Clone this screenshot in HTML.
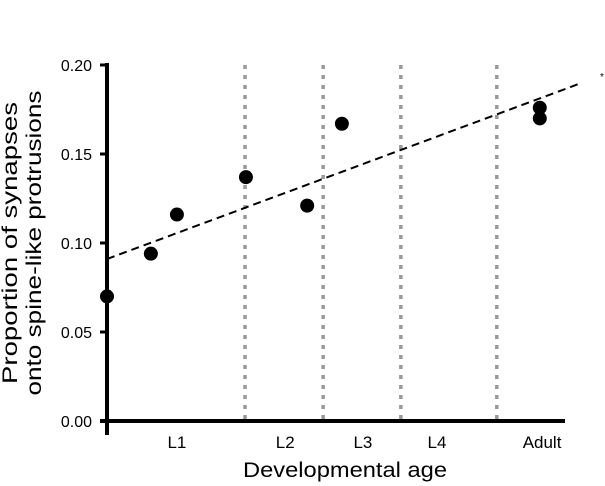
<!DOCTYPE html>
<html><head><meta charset="utf-8"><style>
body{margin:0;background:#fff;}
svg{display:block;font-family:"Liberation Sans",Arial,sans-serif;}
</style></head><body>
<svg id="chart" width="605" height="486"></svg>
<script>
const xs=[0,9.6,15.3,30.4,43.8,51.4,94.7,94.7];
const ys=[0.070,0.094,0.116,0.137,0.121,0.167,0.176,0.170];
const yTicks=[0,0.05,0.10,0.15,0.20];
const yTickLabels=["0.00","0.05","0.10","0.15","0.20"];
const stageNames=["L1","L2","L3","L4","Adult"];
const stagePos=[15.3,39,56,72.2,95.2];
const dividers=[30.2,47.3,64.3,85.3];
const fitLine=[[0,0.091],[103.9,0.190]];

const svg=document.getElementById('chart');
const NS="http://www.w3.org/2000/svg";
const X=v=>107+v*4.57;
const Y=v=>421-v*1780;
function mk(t,a,p){const e=document.createElementNS(NS,t);for(const k in a)e.setAttribute(k,a[k]);(p||svg).appendChild(e);return e;}

dividers.forEach(d=>{
 const l=mk('line',{x1:X(d),x2:X(d),y1:65,y2:421,stroke:'#999','stroke-width':3.5,'stroke-dasharray':'4,6'});
 
 
});
const ax=mk('line',{x1:107,x2:107,y1:63,y2:435,stroke:'#000','stroke-width':4});


const xa=mk('line',{x1:100,x2:565,y1:421,y2:421,stroke:'#000','stroke-width':4});


yTicks.forEach((t,i)=>{
 const tk=mk('line',{x1:100,x2:107,y1:Y(t),y2:Y(t),stroke:'#000','stroke-width':3});
 
 
 const tx=mk('text',{x:92,y:Y(t)+6,'text-anchor':'end','font-size':16});
 tx.textContent=yTickLabels[i];
 
 
});
stageNames.forEach((s,i)=>{
 const tx=mk('text',{x:X(stagePos[i]),y:448,'text-anchor':'middle','font-size':17});
 tx.textContent=s;
 
 
});
const fl=mk('line',{x1:X(fitLine[0][0]),y1:Y(fitLine[0][1]),x2:X(fitLine[1][0]),y2:Y(fitLine[1][1]),stroke:'#000','stroke-width':2,'stroke-dasharray':'8,5'});


xs.forEach((x,i)=>{
 const c=mk('circle',{cx:X(x),cy:Y(ys[i]),r:7,fill:'#000'});
 
 
});
const xt=mk('text',{x:345,y:477,'text-anchor':'middle','font-size':21,textLength:204,lengthAdjust:'spacingAndGlyphs'});
xt.textContent='Developmental age';


const yt=mk('text',{transform:'translate(17,243) rotate(-90)','text-anchor':'middle','font-size':21});


const t1=mk('tspan',{x:0,y:0,textLength:282,lengthAdjust:'spacingAndGlyphs'},yt);t1.textContent='Proportion of synapses';
const t2=mk('tspan',{x:0,y:24,textLength:305,lengthAdjust:'spacingAndGlyphs'},yt);t2.textContent='onto spine-like protrusions';
const st=mk('text',{x:600,y:80,'font-size':10});
st.textContent='*';


</script>
</body></html>
